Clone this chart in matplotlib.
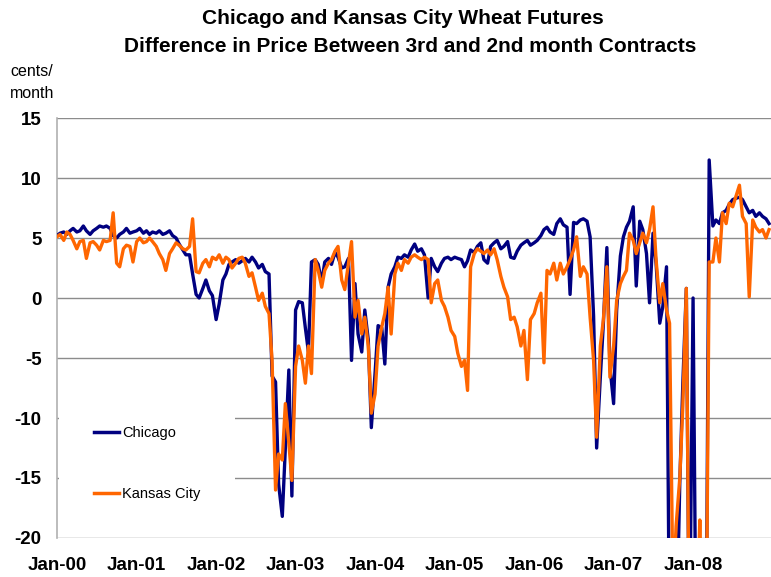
import numpy as np
import pandas as pd
import matplotlib
matplotlib.use("Agg")
import matplotlib.pyplot as plt
import matplotlib.dates as mdates

plt.rcParams['font.family'] = ['Liberation Sans', 'DejaVu Sans']
plt.rcParams['axes.unicode_minus'] = False

# twice-monthly readings (1st and 15th), Jan 2000 .. Dec 2008, cents/month
dates = pd.date_range('2000-01-01', periods=216, freq='SMS')

chicago = [
    # 2000
    5.2, 5.4, 5.5, 5.3, 5.6, 5.8, 5.5, 5.6, 6.0, 5.6, 5.3, 5.6,
    5.8, 6.0, 5.9, 6.0, 5.8, 5.2, 5.0, 5.3, 5.5, 5.8, 5.4, 5.5,
    # 2001
    5.6, 5.8, 5.4, 5.6, 5.3, 5.5, 5.4, 5.6, 5.3, 5.4, 5.6, 5.2,
    5.0, 4.5, 4.0, 3.6, 3.6, 2.0, 0.3, 0.0, 0.8, 1.5, 0.6, 0.2,
    # 2002
    -1.8, -0.5, 1.5, 2.0, 2.8, 3.0, 3.2, 2.9, 3.1, 3.3, 3.0, 3.4,
    3.0, 2.5, 2.8, 2.2, 2.0, -6.5, -7.0, -15.5, -18.2, -12.5, -6.0, -16.5,
    # 2003
    -1.0, -0.3, -0.4, -2.5, -4.5, 3.0, 3.2, 2.8, 1.3, 3.0, 3.3, 2.8,
    3.8, 3.4, 2.5, 2.6, 3.3, -5.2, 1.2, -3.0, -4.5, -1.0, -3.5, -10.8,
    # 2004
    -6.3, -2.3, -2.5, -5.5, 0.9, 2.0, 2.6, 3.4, 3.3, 3.6, 3.4, 4.0,
    4.5, 3.9, 4.1, 3.6, 0.0, 3.3, 2.6, 2.2, 2.9, 3.3, 3.4, 3.2,
    # 2005
    3.4, 3.3, 3.2, 2.6, 3.1, 4.0, 3.8, 4.3, 4.6, 3.2, 2.9, 4.3,
    4.6, 4.8, 4.1, 4.3, 4.7, 3.4, 3.3, 3.9, 4.4, 4.6, 4.8, 4.4,
    # 2006
    4.6, 4.8, 5.2, 5.7, 5.9, 5.5, 5.3, 6.2, 6.6, 6.1, 5.9, 0.3,
    6.3, 6.2, 6.5, 6.6, 6.4, 5.1, -1.5, -12.5, -6.6, -2.1, 4.2, -5.7,
    # 2007
    -8.8, -1.0, 3.5, 5.1, 5.9, 6.4, 7.6, 1.0, 6.4, 5.7, 3.7, -0.4,
    5.4, 2.9, -2.1, -0.7, 2.6, -30, -30, -30, -15.4, -7.1, 0.8, -30,
    # 2008
    0.0, -30, -30, -30, -30, 11.5, 6.0, 6.5, 6.2, 7.1, 7.3, 7.8,
    8.2, 8.3, 8.4, 8.2, 7.6, 7.1, 7.3, 6.8, 7.1, 6.8, 6.6, 6.2,
]

kansas_city = [
    # 2000
    5.1, 5.3, 4.8, 5.5, 5.3, 4.8, 4.1, 4.7, 4.8, 3.3, 4.6, 4.7,
    4.4, 4.0, 4.8, 4.7, 4.8, 7.1, 2.9, 2.6, 4.1, 4.4, 4.3, 3.0,
    # 2001
    4.7, 5.0, 4.6, 4.7, 5.0, 4.7, 4.3, 3.7, 3.2, 2.3, 3.7, 4.1,
    4.6, 4.4, 4.1, 4.0, 4.3, 6.6, 2.2, 2.1, 2.9, 3.2, 2.6, 3.4,
    # 2002
    3.2, 3.6, 2.9, 3.4, 3.2, 2.5, 2.9, 3.3, 3.4, 2.9, 1.8, 2.1,
    0.9, -0.2, 0.4, -0.7, -1.3, -5.2, -16.0, -13.0, -13.5, -8.8, -12.1, -15.2,
    # 2003
    -5.7, -4.0, -5.2, -7.1, -4.0, -6.3, 3.2, 2.3, 0.9, 2.3, 2.9, 3.2,
    3.9, 4.3, 1.5, 0.7, 2.9, 4.7, -1.6, -0.2, -3.0, -1.6, -4.0, -9.6,
    # 2004
    -8.0, -4.0, -2.4, -1.3, 0.9, -3.0, 2.0, 2.9, 2.3, 3.2, 2.9, 3.4,
    3.6, 3.4, 3.2, 3.4, 3.2, -0.4, 1.2, 1.5, -0.2, -0.7, -1.6, -2.7,
    # 2005
    -3.2, -4.6, -5.7, -5.2, -7.7, 2.6, 3.7, 4.1, 3.9, 3.7, 4.0, 3.6,
    4.1, 3.2, 1.8, 0.9, 0.1, -1.8, -1.6, -2.4, -4.0, -2.7, -6.8, -1.8,
    # 2006
    -1.3, -0.4, 0.4, -5.4, 2.3, 2.0, 2.9, 1.5, 2.9, 2.0, 2.6, 3.2,
    4.0, 5.1, 1.8, 2.6, 2.0, -1.6, -5.2, -11.6, -4.0, -1.8, 2.6, -6.6,
    # 2007
    -4.0, -0.2, 1.2, 1.8, 2.3, 5.4, 4.8, 3.7, 4.6, 5.4, 4.6, 5.7,
    7.6, 3.2, -0.4, 1.2, -1.0, -2.1, -25, -19, -15, -9, 0.8, -30,
    # 2008
    -30, -30, -18.5, -30, -30, 3.0, 3.0, 5.0, 3.0, 7.1, 6.2, 7.9,
    7.6, 8.4, 9.4, 6.8, 6.2, 0.1, 6.5, 5.9, 5.5, 5.7, 5.0, 5.7,
]

y_ticks = [15, 10, 5, 0, -5, -10, -15, -20]

fig = plt.figure(figsize=(7.71, 5.77), dpi=100)
ax = fig.add_axes([57 / 771, 1 - 538 / 577, 1 - 57 / 771, 420 / 577])

ax.plot(dates, chicago, color='#000080', lw=2.4, label='Chicago', zorder=3)
ax.plot(dates, kansas_city, color='#FF6600', lw=2.4, label='Kansas City', zorder=4)

ax.set_ylim(-20, 15)
ax.set_xlim(pd.Timestamp('2000-01-01'), pd.Timestamp('2008-12-24'))
ax.set_yticks(y_ticks)
ax.xaxis.set_major_locator(mdates.YearLocator())
ax.xaxis.set_major_formatter(mdates.DateFormatter('%b-%y'))

ax.set_axisbelow(True)
ax.yaxis.grid(True, color='#8c8c8c', lw=1.0)
for side in ['top', 'right', 'bottom']:
    ax.spines[side].set_visible(False)
ax.spines['left'].set_color('#b0b0b0')
ax.spines['left'].set_linewidth(1.2)

ax.tick_params(axis='both', length=0, labelsize=13.5)
ax.tick_params(axis='x', pad=14)
ax.tick_params(axis='y', pad=11)
for lbl in ax.get_xticklabels() + ax.get_yticklabels():
    lbl.set_fontweight('bold')

leg = ax.legend(loc='upper left', bbox_to_anchor=(0.003, 0.35), borderaxespad=0,
                fontsize=10.5, handlelength=1.7, handletextpad=0.2,
                labelspacing=3.2, borderpad=2.4, fancybox=False,
                framealpha=1)
leg.get_frame().set_facecolor('white')
leg.get_frame().set_edgecolor('none')
for h in leg.get_lines():
    h.set_linewidth(2.5)

fig.text(0.522, 1 - 18 / 577, 'Chicago and Kansas City Wheat Futures',
         ha='center', va='center', fontsize=15, fontweight='bold')
fig.text(0.532, 1 - 46 / 577, 'Difference in Price Between 3rd and 2nd month Contracts',
         ha='center', va='center', fontsize=15, fontweight='bold')
fig.text(10 / 771, 1 - 71 / 577, 'cents/', ha='left', va='center', fontsize=11.5)
fig.text(10 / 771, 1 - 93 / 577, 'month', ha='left', va='center', fontsize=11.5)

fig.savefig('out.png', dpi=100)
